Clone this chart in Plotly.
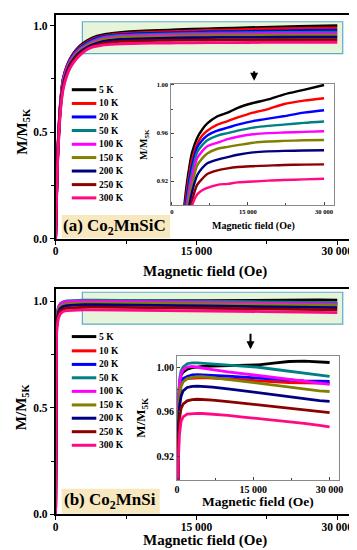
import plotly.graph_objects as go

# ---------------- data ----------------
temps = ["5 K", "10 K", "20 K", "50 K", "100 K", "150 K", "200 K", "250 K", "300 K"]

# (a) Co2MnSiC
H_a = [0, 100, 200, 300, 500, 800, 1200, 1600, 2000, 2500, 3000, 3500, 4000, 5000,
       6000, 7000, 9000, 11000, 13000, 16000, 19000, 22000, 26000, 30000]
a_5K = [0, 0.20, 0.38, 0.48, 0.63, 0.75, 0.81, 0.848, 0.876, 0.901, 0.919, 0.933, 0.944, 0.956,
        0.963, 0.968, 0.974, 0.977, 0.981, 0.985, 0.988, 0.992, 0.996, 1.000]
a_10K = [0, 0.20, 0.38, 0.48, 0.63, 0.75, 0.81, 0.846, 0.872, 0.896, 0.913, 0.927, 0.938, 0.951,
         0.958, 0.962, 0.967, 0.970, 0.973, 0.977, 0.980, 0.984, 0.987, 0.989]
a_20K = [0, 0.20, 0.37, 0.47, 0.62, 0.745, 0.805, 0.843, 0.868, 0.892, 0.908, 0.922, 0.933, 0.948,
         0.954, 0.958, 0.962, 0.9645, 0.967, 0.970, 0.972, 0.974, 0.977, 0.979]
a_50K = [0, 0.20, 0.37, 0.47, 0.62, 0.74, 0.80, 0.838, 0.864, 0.888, 0.903, 0.917, 0.928, 0.944,
         0.950, 0.954, 0.958, 0.960, 0.962, 0.9645, 0.966, 0.967, 0.9685, 0.9697]
a_100K = [0, 0.20, 0.37, 0.47, 0.62, 0.74, 0.80, 0.834, 0.860, 0.884, 0.899, 0.912, 0.923, 0.939,
          0.945, 0.949, 0.952, 0.955, 0.957, 0.959, 0.960, 0.9605, 0.961, 0.9615]
a_150K = [0, 0.20, 0.36, 0.46, 0.61, 0.73, 0.79, 0.828, 0.854, 0.878, 0.894, 0.907, 0.917, 0.933,
          0.939, 0.943, 0.947, 0.9486, 0.950, 0.952, 0.953, 0.9535, 0.954, 0.9543]
a_200K = [0, 0.19, 0.36, 0.46, 0.61, 0.72, 0.785, 0.822, 0.848, 0.872, 0.888, 0.901, 0.911, 0.925,
          0.931, 0.935, 0.938, 0.940, 0.942, 0.944, 0.9448, 0.9452, 0.9455, 0.9458]
a_250K = [0, 0.19, 0.35, 0.45, 0.60, 0.71, 0.775, 0.815, 0.841, 0.865, 0.881, 0.894, 0.904, 0.917,
          0.922, 0.926, 0.929, 0.9307, 0.9318, 0.9325, 0.933, 0.9335, 0.9338, 0.934]
a_300K = [0, 0.18, 0.34, 0.44, 0.59, 0.70, 0.765, 0.805, 0.832, 0.857, 0.877, 0.891, 0.900, 0.909,
          0.9125, 0.9145, 0.917, 0.9178, 0.919, 0.9197, 0.9205, 0.921, 0.9215, 0.922]
series_a = [a_5K, a_10K, a_20K, a_50K, a_100K, a_150K, a_200K, a_250K, a_300K]

# (b) Co2MnSi
H_b = [0, 30, 60, 100, 150, 200, 300, 500, 800, 1200, 2000, 3000, 4000, 5000, 7000,
       10000, 13000, 16000, 19000, 22000, 25000, 28000, 30000]
b_5K = [0, 0.45, 0.75, 0.88, 0.93, 0.95, 0.97, 0.985, 0.993, 0.996, 0.9985, 1.000, 1.0005, 1.001,
        1.0013, 1.0015, 1.0018, 1.0025, 1.004, 1.0055, 1.0058, 1.0052, 1.0046]
b_10K = [0, 0.44, 0.74, 0.87, 0.92, 0.94, 0.958, 0.975, 0.984, 0.988, 0.990, 0.9905, 0.9908, 0.991,
         0.9905, 0.990, 0.989, 0.988, 0.987, 0.9865, 0.9862, 0.986, 0.9858]
b_20K = [0, 0.45, 0.75, 0.88, 0.925, 0.945, 0.963, 0.979, 0.987, 0.990, 0.992, 0.9935, 0.9936, 0.9935,
         0.993, 0.9922, 0.9913, 0.9903, 0.9895, 0.9887, 0.988, 0.9877, 0.9876]
b_50K = [0, 0.46, 0.76, 0.89, 0.935, 0.955, 0.973, 0.989, 0.997, 1.0005, 1.0035, 1.0043, 1.0043, 1.004,
         1.0033, 1.002, 1.001, 1.0003, 0.9985, 0.9967, 0.9948, 0.993, 0.992]
b_100K = [0, 0.45, 0.75, 0.88, 0.93, 0.95, 0.968, 0.985, 0.994, 0.998, 1.0005, 1.001, 1.0003, 0.9998,
          0.9982, 0.9962, 0.9945, 0.993, 0.9912, 0.9895, 0.9877, 0.986, 0.9849]
b_150K = [0, 0.44, 0.74, 0.87, 0.92, 0.94, 0.958, 0.974, 0.983, 0.987, 0.990, 0.9912, 0.9917, 0.9918,
          0.991, 0.9893, 0.9875, 0.9857, 0.9838, 0.982, 0.9803, 0.979, 0.9784]
b_200K = [0, 0.43, 0.73, 0.86, 0.91, 0.93, 0.949, 0.965, 0.974, 0.979, 0.982, 0.9831, 0.9833, 0.9831,
          0.9823, 0.9808, 0.979, 0.9772, 0.9752, 0.9734, 0.9715, 0.9702, 0.9695]
b_250K = [0, 0.42, 0.72, 0.85, 0.90, 0.92, 0.938, 0.954, 0.963, 0.967, 0.970, 0.9711, 0.9714, 0.9713,
          0.9706, 0.9693, 0.9679, 0.9664, 0.9649, 0.9634, 0.9619, 0.9604, 0.9593]
b_300K = [0, 0.41, 0.70, 0.83, 0.88, 0.90, 0.92, 0.94, 0.9513, 0.9555, 0.958, 0.9586, 0.9587, 0.9585,
          0.958, 0.9568, 0.9553, 0.954, 0.9525, 0.951, 0.9495, 0.9477, 0.9464]
series_b = [b_5K, b_10K, b_20K, b_50K, b_100K, b_150K, b_200K, b_250K, b_300K]

main_xticks = [0, 15000, 30000]
main_xtext = ["0", "15 000", "30 000"]
main_yticks = [0.0, 0.5, 1.0]
main_ytext = ["0.0", "0.5", "1.0"]
inset_yticks = [0.92, 0.96, 1.00]
inset_ytext = ["0.92", "0.96", "1.00"]

# ---------------- style ----------------
colors = ["#000000", "#ff0000", "#0000ff", "#008080", "#ff00ff",
          "#808000", "#000080", "#8b0000", "#ff0a84"]
W, Hh = 357, 550
SERIF = "Liberation Serif"


def px(x):
    return x / W


def py(y):
    return 1 - y / Hh


fig = go.Figure()

for T, ys, c in zip(temps, series_a, colors):
    fig.add_trace(go.Scatter(x=H_a, y=ys, mode="lines",
                             line=dict(color=c, width=2.8, shape="spline", smoothing=0.8),
                             xaxis="x", yaxis="y", showlegend=False, name=T))
for T, ys, c in zip(temps, series_a, colors):
    fig.add_trace(go.Scatter(x=H_a, y=ys, mode="lines",
                             line=dict(color=c, width=2.4, shape="spline", smoothing=0.8),
                             xaxis="x2", yaxis="y2", showlegend=False, name=T))
for T, ys, c in zip(temps, series_b, colors):
    fig.add_trace(go.Scatter(x=H_b, y=ys, mode="lines", line=dict(color=c, width=2.8),
                             xaxis="x3", yaxis="y3", showlegend=False, name=T))
for T, ys, c in zip(temps, series_b, colors):
    fig.add_trace(go.Scatter(x=H_b, y=ys, mode="lines", line=dict(color=c, width=2.8),
                             xaxis="x4", yaxis="y4", showlegend=False, name=T))

tickfont_main = dict(family=SERIF, size=11.5, color="black", weight="bold")


def main_x(dom, anchor):
    return dict(domain=dom, anchor=anchor, range=[0, 31900], tickvals=main_xticks, ticktext=main_xtext,
                ticks="outside", ticklen=4, tickwidth=1.2, tickcolor="black", ticklabelstandoff=-3,
                minor=dict(tickvals=[7500, 22500], ticks="outside", ticklen=3, tickcolor="black"),
                showline=True, mirror=True, linecolor="black", linewidth=1.5,
                showgrid=False, zeroline=False, tickfont=tickfont_main)


def main_y(dom, anchor, rng):
    return dict(domain=dom, anchor=anchor, range=rng, tickvals=main_yticks, ticktext=main_ytext,
                ticks="outside", ticklen=4, tickwidth=1.2, tickcolor="black",
                minor=dict(tickvals=[0.25, 0.75], ticks="outside", ticklen=3, tickcolor="black"),
                showline=True, mirror=True, linecolor="black", linewidth=1.5,
                showgrid=False, zeroline=False, tickfont=tickfont_main)


def inset_x(dom, anchor, rng, fs):
    return dict(domain=dom, anchor=anchor, range=rng, tickvals=main_xticks, ticktext=main_xtext,
                ticks="inside", ticklen=3, tickwidth=1, tickcolor="#444",
                minor=dict(tickvals=[7500, 22500], ticks="inside", ticklen=2, tickcolor="#444"),
                showline=True, mirror=True, linecolor="#8a8a8a", linewidth=1.2,
                showgrid=False, zeroline=False,
                tickfont=dict(family=SERIF, size=fs, color="black", weight="bold"))


def inset_y(dom, anchor, rng, fs):
    return dict(domain=dom, anchor=anchor, range=rng, tickvals=inset_yticks, ticktext=inset_ytext,
                ticks="inside", ticklen=3, tickwidth=1, tickcolor="#444",
                minor=dict(tickvals=[0.90, 0.94, 0.98], ticks="inside", ticklen=2, tickcolor="#444"),
                showline=True, mirror=True, linecolor="#8a8a8a", linewidth=1.2,
                showgrid=False, zeroline=False,
                tickfont=dict(family=SERIF, size=fs, color="black", weight="bold"))


fig.update_layout(
    width=W, height=Hh, margin=dict(l=0, r=0, t=0, b=0),
    paper_bgcolor="white", plot_bgcolor="rgba(0,0,0,0)",
    xaxis=main_x([px(45.5), px(351)], "y"),
    yaxis=main_y([py(231.7), py(4)], "x", [0, 1.05]),
    xaxis2=inset_x([px(162.7), px(329)], "y2", [-250, 31870], 6.5),
    yaxis2=inset_y([py(197.5), py(74)], "x2", [0.90, 1.001], 6.5),
    xaxis3=main_x([px(45.5), px(351)], "y3"),
    yaxis3=main_y([py(511.7), py(283)], "x3", [0, 1.055]),
    xaxis4=inset_x([px(169.3), px(335)], "y4", [0, 31930], 10),
    yaxis4=inset_y([py(476.5), py(350.7)], "x4", [0.8987, 1.0105], 10),
)

shapes = []
annotations = []


def label(x, y, text, size, angle=0, xanchor="center"):
    return dict(xref="paper", yref="paper", x=px(x), y=py(y), xanchor=xanchor, yanchor="middle",
                text=text, textangle=angle, showarrow=False,
                font=dict(family=SERIF, size=size, color="black", weight="bold"))


# white backgrounds for the insets
shapes.append(dict(type="rect", xref="paper", yref="paper", x0=px(162.7), x1=px(329),
                   y0=py(197.5), y1=py(74), fillcolor="white", line=dict(width=0), layer="below"))
shapes.append(dict(type="rect", xref="paper", yref="paper", x0=px(169.3), x1=px(335),
                   y0=py(476.5), y1=py(350.7), fillcolor="white", line=dict(width=0), layer="below"))

# green highlight rectangles
shapes.append(dict(type="rect", xref="x", yref="y", x0=2850, x1=30580, y0=0.869, y1=1.018,
                   fillcolor="#e6f4d9", line=dict(color="#5aaccd", width=1.2), layer="below"))
shapes.append(dict(type="rect", xref="x3", yref="y3", x0=2850, x1=30580, y0=0.892, y1=1.0415,
                   fillcolor="#e6f4d9", line=dict(color="#5aaccd", width=1.2), layer="below"))

# label boxes
shapes.append(dict(type="rect", xref="paper", yref="paper", x0=px(51.7), x1=px(162.3),
                   y0=py(231), y1=py(207.3), fillcolor="#f8e8c0", line=dict(width=0), layer="below"))
shapes.append(dict(type="rect", xref="paper", yref="paper", x0=px(51.7), x1=px(151.7),
                   y0=py(511), y1=py(485.7), fillcolor="#f8e8c0", line=dict(width=0), layer="below"))
annotations.append(label(106, 219.5, "(a) Co<sub>2</sub>MnSiC", 17))
annotations.append(label(101, 498.5, "(b) Co<sub>2</sub>MnSi", 17))

# manual legends
leg_a_y = [80, 94, 107.7, 121.5, 135.5, 149, 162.7, 176.5, 190]
leg_b_y = [331, 345.5, 359.3, 372.9, 386.7, 400.5, 414, 427.7, 441.5]
for ys in (leg_a_y, leg_b_y):
    for T, yy, c in zip(temps, ys, colors):
        shapes.append(dict(type="line", xref="paper", yref="paper", x0=px(62), x1=px(87),
                           y0=py(yy), y1=py(yy), line=dict(color=c, width=3)))
        annotations.append(label(87.5, yy, T, 9.5, xanchor="left"))

# arrows
annotations.append(dict(xref="paper", yref="paper", x=px(248), y=py(71), ax=0, ay=-11,
                        showarrow=True, arrowhead=2, arrowsize=0.8, arrowwidth=2, arrowcolor="black", text=""))
annotations.append(dict(xref="paper", yref="paper", x=px(244.3), y=py(344), ax=0, ay=-17,
                        showarrow=True, arrowhead=2, arrowsize=0.8, arrowwidth=2, arrowcolor="black", text=""))

# axis titles
annotations += [
    label(198, 265, "Magnetic field (Oe)", 15),
    label(198, 538, "Magnetic field (Oe)", 15),
    label(12, 122, "M/M<sub>5K</sub>", 15, angle=-90),
    label(12, 402, "M/M<sub>5K</sub>", 15, angle=-90),
    label(247, 219, "Magnetic field (Oe)", 10),
    label(136, 136, "M/M<sub>5K</sub>", 10, angle=-90),
    label(252, 499, "Magnetic field (Oe)", 13.5),
    label(133, 413, "M/M<sub>5K</sub>", 13, angle=-90),
]

fig.update_layout(shapes=shapes, annotations=annotations)
fig.write_html("out.html")
